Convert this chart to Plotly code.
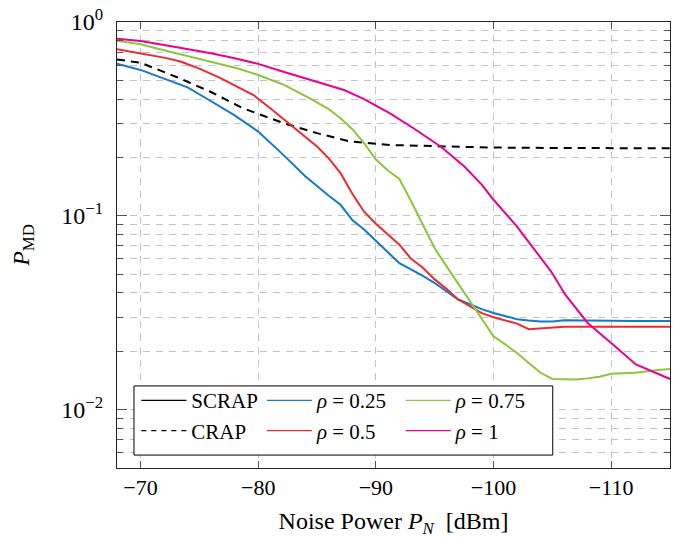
import plotly.graph_objects as go

# ---------------- data ----------------
crap_x = [-68, -70, -73.1, -75.9, -78.7, -80, -82.2, -85, -87.8, -91.2, -95.5, -100, -105, -110, -115]
crap_y = [0.64, 0.617, 0.519, 0.438, 0.359, 0.335, 0.30, 0.267, 0.242, 0.232, 0.228, 0.225, 0.224, 0.223, 0.223]

b_x = [-68, -70, -72, -74, -76, -78, -80, -82, -84, -85, -86, -87, -88, -89, -90, -91, -92, -93, -94, -95,
       -96, -97, -98, -99, -100, -101, -102, -103, -104, -105, -106, -108, -110, -112, -115]
b_y = [0.61, 0.566, 0.51, 0.46, 0.39, 0.33, 0.272, 0.21, 0.16, 0.142, 0.127, 0.114, 0.095, 0.085, 0.074,
       0.065, 0.057, 0.053, 0.049, 0.045, 0.041, 0.037, 0.035, 0.033, 0.0315, 0.0305, 0.0293, 0.0288,
       0.0285, 0.0285, 0.0289, 0.0288, 0.0287, 0.0287, 0.0287]

r_x = [-68, -70, -72, -73.4, -75, -76.8, -78, -79.6, -81, -82.2, -84, -85, -86, -87, -88, -89, -90, -91,
       -92, -93, -94, -95, -96, -97, -98, -99, -100, -101, -102, -103, -104, -105, -106, -108, -110, -112, -115]
r_y = [0.723, 0.69, 0.655, 0.625, 0.575, 0.513, 0.47, 0.42, 0.36, 0.313, 0.255, 0.228, 0.198, 0.166, 0.13,
       0.105, 0.091, 0.08, 0.071, 0.06, 0.054, 0.047, 0.042, 0.037, 0.034, 0.0315, 0.030, 0.029, 0.0278,
       0.026, 0.0262, 0.0266, 0.0268, 0.0268, 0.0268, 0.027, 0.0268]

g_x = [-68, -70, -72, -74.2, -76, -78.2, -80, -82.2, -84.4, -86, -87, -88, -89, -90, -91, -92, -93, -94,
       -95, -96, -97, -98, -99, -100, -101, -102, -103, -104, -105, -106, -107, -108, -109, -110, -112, -114, -115]
g_y = [0.80, 0.767, 0.715, 0.663, 0.62, 0.577, 0.533, 0.474, 0.404, 0.355, 0.319, 0.28, 0.237, 0.195,
       0.172, 0.155, 0.119, 0.090, 0.068, 0.055, 0.0448, 0.0365, 0.0297, 0.0239, 0.0217, 0.0196, 0.0174,
       0.0155, 0.0144, 0.0143, 0.0143, 0.0145, 0.0148, 0.0153, 0.0155, 0.016, 0.0162]

m_x = [-68, -70, -72, -74.2, -76, -78, -80, -82, -84.4, -86, -87.3, -89, -90, -91.2, -93.2, -95.5, -97.5,
       -99, -100, -102, -103.4, -104.9, -106.1, -108, -110, -112.1, -115]
m_y = [0.82, 0.798, 0.76, 0.723, 0.69, 0.65, 0.608, 0.557, 0.502, 0.47, 0.446, 0.40, 0.369, 0.338, 0.283,
       0.228, 0.18, 0.145, 0.121, 0.088, 0.068, 0.0516, 0.0392, 0.028, 0.0221, 0.0171, 0.0144]

series_names = ["<i>ρ</i> = 0.25", "<i>ρ</i> = 0.5", "<i>ρ</i> = 0.75", "<i>ρ</i> = 1"]
series_colors = ["#1479CF", "#EE2A2E", "#8CC63F", "#EC008C"]

x_ticks = [-70, -80, -90, -100, -110]
y_major = [0.01, 0.1, 1]
y_major_text = ["10<sup>−2</sup>", "10<sup>−1</sup>", "10<sup>0</sup>"]
y_minor = [m * 10 ** e for e in (-3, -2, -1) for m in range(2, 10) if m * 10 ** e >= 0.005]

FONT = "Liberation Serif"
GRID = "#c4c4c4"

fig = go.Figure()

# ---------------- data traces ----------------
fig.add_trace(go.Scatter(x=crap_x, y=crap_y, mode="lines", showlegend=False,
                         line=dict(color="black", width=2, dash="8px,6px")))
for xs, ys, col in zip([b_x, r_x, g_x, m_x], [b_y, r_y, g_y, m_y], series_colors):
    fig.add_trace(go.Scatter(x=xs, y=ys, mode="lines", showlegend=False,
                             line=dict(color=col, width=2)))

# ---------------- legend entries ----------------
fig.add_trace(go.Scatter(x=[None], y=[None], mode="lines", name="SCRAP", legend="legend",
                         line=dict(color="black", width=1.2)))
fig.add_trace(go.Scatter(x=[None], y=[None], mode="lines", name="CRAP", legend="legend",
                         line=dict(color="black", width=1.2, dash="5px,5px")))
for i, (nm, col) in enumerate(zip(series_names, series_colors)):
    fig.add_trace(go.Scatter(x=[None], y=[None], mode="lines", name=nm,
                             legend="legend2" if i < 2 else "legend3",
                             line=dict(color=col, width=1.3)))

leg_common = dict(bgcolor="rgba(0,0,0,0)", borderwidth=0, itemwidth=45,
                  font=dict(family=FONT, size=21, color="black"),
                  xanchor="left", yanchor="top", y=0.197, tracegroupgap=0)

fig.update_layout(
    width=674, height=538,
    margin=dict(l=117, r=4, t=22, b=70, autoexpand=False),
    paper_bgcolor="white", plot_bgcolor="white",
    font=dict(family=FONT, size=20, color="black"),
    legend=dict(x=0.035, **leg_common),
    legend2=dict(x=0.262, **leg_common),
    legend3=dict(x=0.513, **leg_common),
    shapes=[dict(type="rect", xref="paper", yref="paper", x0=0.0307, x1=0.788, y0=0.029, y1=0.184,
                 fillcolor="white", line=dict(color="black", width=1), layer="above")],
)

fig.update_xaxes(
    range=[-68, -115], tickvals=x_ticks, automargin=False,
    showline=True, linecolor="#222", linewidth=1, mirror="allticks",
    ticks="inside", ticklen=7, tickcolor="#555", tickwidth=1,
    showgrid=True, gridcolor=GRID, griddash="7px,6px", gridwidth=1,
    zeroline=False, tickfont=dict(family=FONT, size=22),
    title=dict(text="Noise Power <i>P</i><sub><i>N</i></sub>  [dBm]", font=dict(family=FONT, size=24), standoff=12),
)
fig.update_yaxes(
    type="log", range=[-2.301, 0], tickvals=y_major, ticktext=y_major_text, automargin=False,
    showline=True, linecolor="#222", linewidth=1, mirror="allticks",
    ticks="inside", ticklen=10, tickcolor="#555", tickwidth=1,
    showgrid=True, gridcolor=GRID, griddash="7px,6px", gridwidth=1,
    minor=dict(tickmode="array", tickvals=y_minor, ticks="inside", ticklen=6, tickcolor="#555",
               showgrid=True, gridcolor=GRID, griddash="7px,6px", gridwidth=1),
    zeroline=False, tickfont=dict(family=FONT, size=24), ticklabelstandoff=8,
    title=dict(text="<i>P</i><sub>MD</sub>", font=dict(family=FONT, size=24), standoff=24),
)

fig.write_html("out.html", config={"displayModeBar": False},
               post_script="document.body.style.margin='0';")
